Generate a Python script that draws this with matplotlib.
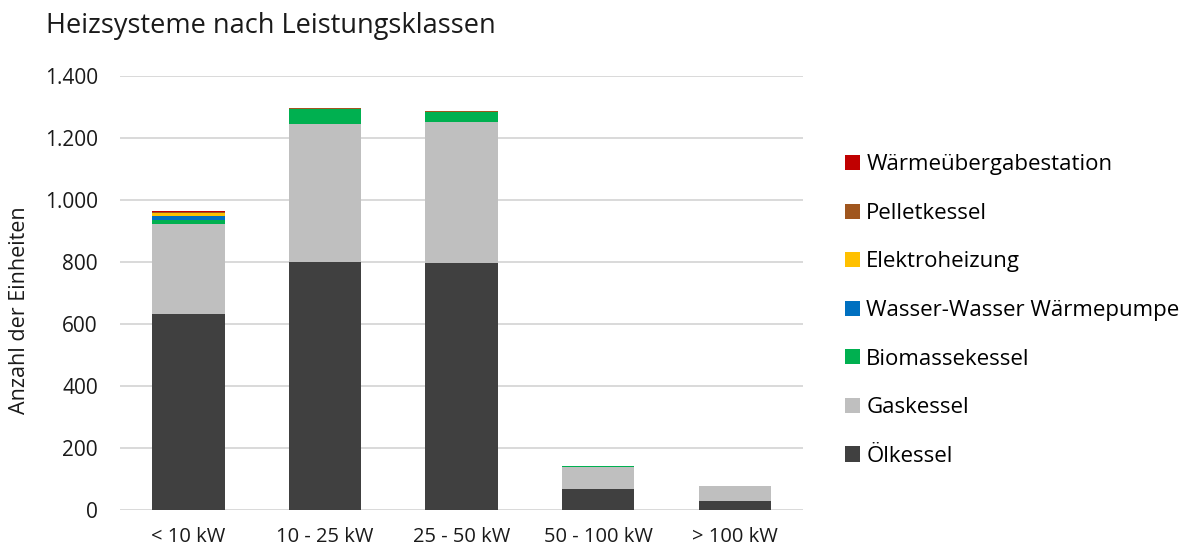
import matplotlib.pyplot as plt
import numpy as np

plt.rcParams['font.family'] = ['Open Sans', 'DejaVu Sans']

klassen = ['< 10 kW', '10 - 25 kW', '25 - 50 kW', '50 - 100 kW', '> 100 kW']

oel = [632, 800, 797, 68, 29]
gas = [290, 446, 455, 71, 47]
biomasse = [12, 47, 33, 2, 2]
waermepumpe = [15, 0, 0, 0, 0]
elektro = [8, 0, 0, 0, 0]
pellet = [3, 4, 3, 0, 0]
wuest = [5, 0, 0, 0, 0]

serien = [
    ('Ölkessel', oel, '#404040'),
    ('Gaskessel', gas, '#BFBFBF'),
    ('Biomassekessel', biomasse, '#00B050'),
    ('Wasser-Wasser Wärmepumpe', waermepumpe, '#0070C0'),
    ('Elektroheizung', elektro, '#FFC000'),
    ('Pelletkessel', pellet, '#A0561E'),
    ('Wärmeübergabestation', wuest, '#C00000'),
]

fig = plt.figure(figsize=(11.92, 5.48), dpi=100)
ax = fig.add_axes([0.1007, 0.0693, 0.573, 0.792])

x = np.arange(len(klassen))
unten = np.zeros(len(klassen))
for name, werte, farbe in serien:
    ax.bar(x, werte, bottom=unten, width=0.53, color=farbe, label=name, zorder=3)
    unten += np.array(werte)

ax.set_xlim(-0.5, len(klassen) - 0.5)
ax.set_ylim(0, 1400)
ax.set_yticks(range(0, 1401, 200))
ax.set_yticklabels([f'{v:,}'.replace(',', '.') for v in range(0, 1401, 200)])
ax.set_xticks(x)
ax.set_xticklabels(klassen)
ax.tick_params(length=0, colors='#1a1a1a')
ax.tick_params(axis='y', pad=16, labelsize=15)
ax.tick_params(axis='x', pad=12, labelsize=14.5)
ax.grid(axis='y', color='#D9D9D9', linewidth=1.4, zorder=0)
for s in ax.spines.values():
    s.set_visible(False)

# Achsentitel links
fig.text(0.016, 0.434, 'Anzahl der Einheiten', rotation=90, fontsize=15.5,
         color='#1a1a1a', ha='center', va='center')

fig.text(0.039, 0.953, 'Heizsysteme nach Leistungsklassen', fontsize=19.5, color='#1a1a1a', va='center')

h, l = ax.get_legend_handles_labels()
fig.legend(h[::-1], l[::-1], loc='upper left', bbox_to_anchor=(0.7015, 0.7345),
           frameon=False, fontsize=16, handlelength=0.68, handleheight=0.68,
           handletextpad=0.27, labelspacing=1.24, borderaxespad=0)

fig.savefig('out.png', dpi=100)
